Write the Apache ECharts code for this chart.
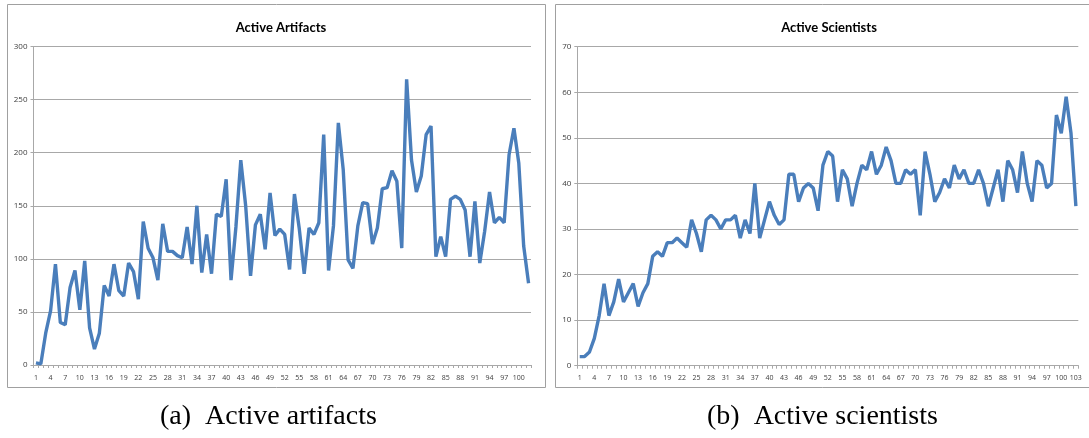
<!DOCTYPE html>
<html>
<head>
<meta charset="utf-8">
<script src="https://cdn.jsdelivr.net/npm/echarts@6/dist/echarts.min.js"></script>
<style>
html,body{margin:0;padding:0;background:#fff;}
#c{width:1089px;height:438px;}
</style>
</head>
<body>
<div id="c"></div>
<script>
// Data
const artifactValues = [2,1,30,51,95,40,38,73,89,52,98,35,15,30,75,65,95,70,65,96,88,62,135,110,101,80,133,107,107,103,101,130,95,150,87,123,86,142,140,175,80,130,193,150,84,132,142,109,162,122,128,123,90,161,128,86,129,123,134,217,89,131,228,184,99,91,131,153,152,114,129,166,167,183,173,110,269,193,163,178,217,225,102,121,102,156,159,156,146,102,154,96,126,163,134,139,134,198,223,190,112,77];
const scientistValues = [2,2,3,6,11,18,11,14,19,14,16,18,13,16,18,24,25,24,27,27,28,27,26,32,29,25,32,33,32,30,32,32,33,28,32,29,40,28,32,36,33,31,32,42,42,36,39,40,39,34,44,47,46,36,43,41,35,40,44,43,47,42,44,48,45,40,40,43,42,43,33,47,42,36,38,41,39,44,41,43,40,40,43,40,35,39,43,36,45,43,38,47,40,36,45,44,39,40,55,51,59,51,35];
const artifactCategories = artifactValues.map((_, i) => String(i + 1));
const scientistCategories = scientistValues.map((_, i) => String(i + 1));
const chartTitles = ['Active Artifacts', 'Active Scientists'];
const captions = ['(a)  Active artifacts', '(b)  Active scientists'];
const artifactTicks = {min: 0, max: 300, interval: 50};
const scientistTicks = {min: 0, max: 70, interval: 10};

const LINE = '#4A7EBB';
const GRID = '#a8a8a8';
const LABEL = '#404040';
const sans = 'Open Sans, Liberation Sans, sans-serif';

function xAxis(idx, cats) {
  return {
    type: 'category', gridIndex: idx, data: cats, boundaryGap: true,
    axisLine: {lineStyle: {color: GRID, width: 1}},
    axisTick: {show: true, interval: 0, length: 3, alignWithLabel: false, lineStyle: {color: GRID}},
    axisLabel: {interval: 2, fontSize: 7, color: LABEL, fontFamily: sans, margin: 9},
    splitLine: {show: false}
  };
}
function yAxis(idx, t) {
  return {
    type: 'value', gridIndex: idx, min: t.min, max: t.max, interval: t.interval,
    axisLine: {show: true, lineStyle: {color: GRID, width: 1}},
    axisTick: {show: true, length: 3, lineStyle: {color: GRID}},
    axisLabel: {fontSize: 8, color: LABEL, fontFamily: sans, margin: 6},
    splitLine: {show: true, lineStyle: {color: GRID, width: 1}}
  };
}

const chart = echarts.init(document.getElementById('c'), null, {renderer: 'canvas'});
chart.setOption({
  animation: false,
  backgroundColor: '#fff',
  title: [
    {text: chartTitles[0], left: 276, top: 16, textAlign: 'center',
     textStyle: {fontSize: 13, fontWeight: 'bold', color: '#000', fontFamily: 'Lato, Open Sans, sans-serif'}},
    {text: chartTitles[1], left: 824, top: 16, textAlign: 'center',
     textStyle: {fontSize: 13, fontWeight: 'bold', color: '#000', fontFamily: 'Lato, Open Sans, sans-serif'}}
  ],
  grid: [
    {left: 33.5, top: 46.5, width: 497.5, height: 318.5, containLabel: false},
    {left: 577.3, top: 46.7, width: 501, height: 319, containLabel: false}
  ],
  xAxis: [xAxis(0, artifactCategories), xAxis(1, scientistCategories)],
  yAxis: [yAxis(0, artifactTicks), yAxis(1, scientistTicks)],
  series: [
    {type: 'line', xAxisIndex: 0, yAxisIndex: 0, data: artifactValues, symbol: 'none',
     lineStyle: {color: LINE, width: 3.4}, itemStyle: {color: LINE}},
    {type: 'line', xAxisIndex: 1, yAxisIndex: 1, data: scientistValues, symbol: 'none',
     lineStyle: {color: LINE, width: 3.4}, itemStyle: {color: LINE}}
  ],
  graphic: [
    {type: 'rect', shape: {x: 7.5, y: 4.5, width: 538, height: 383}, style: {fill: 'none', stroke: '#a0a0a0', lineWidth: 1}, z: -1},
    {type: 'rect', shape: {x: 555.5, y: 4.5, width: 540, height: 383}, style: {fill: 'none', stroke: '#a0a0a0', lineWidth: 1}, z: -1},
    {type: 'text', left: 160, top: 403, style: {text: captions[0], font: '28px "Liberation Serif", serif', fill: '#000'}},
    {type: 'text', left: 707, top: 403, style: {text: captions[1], font: '28px "Liberation Serif", serif', fill: '#000'}}
  ]
});
</script>
</body>
</html>
